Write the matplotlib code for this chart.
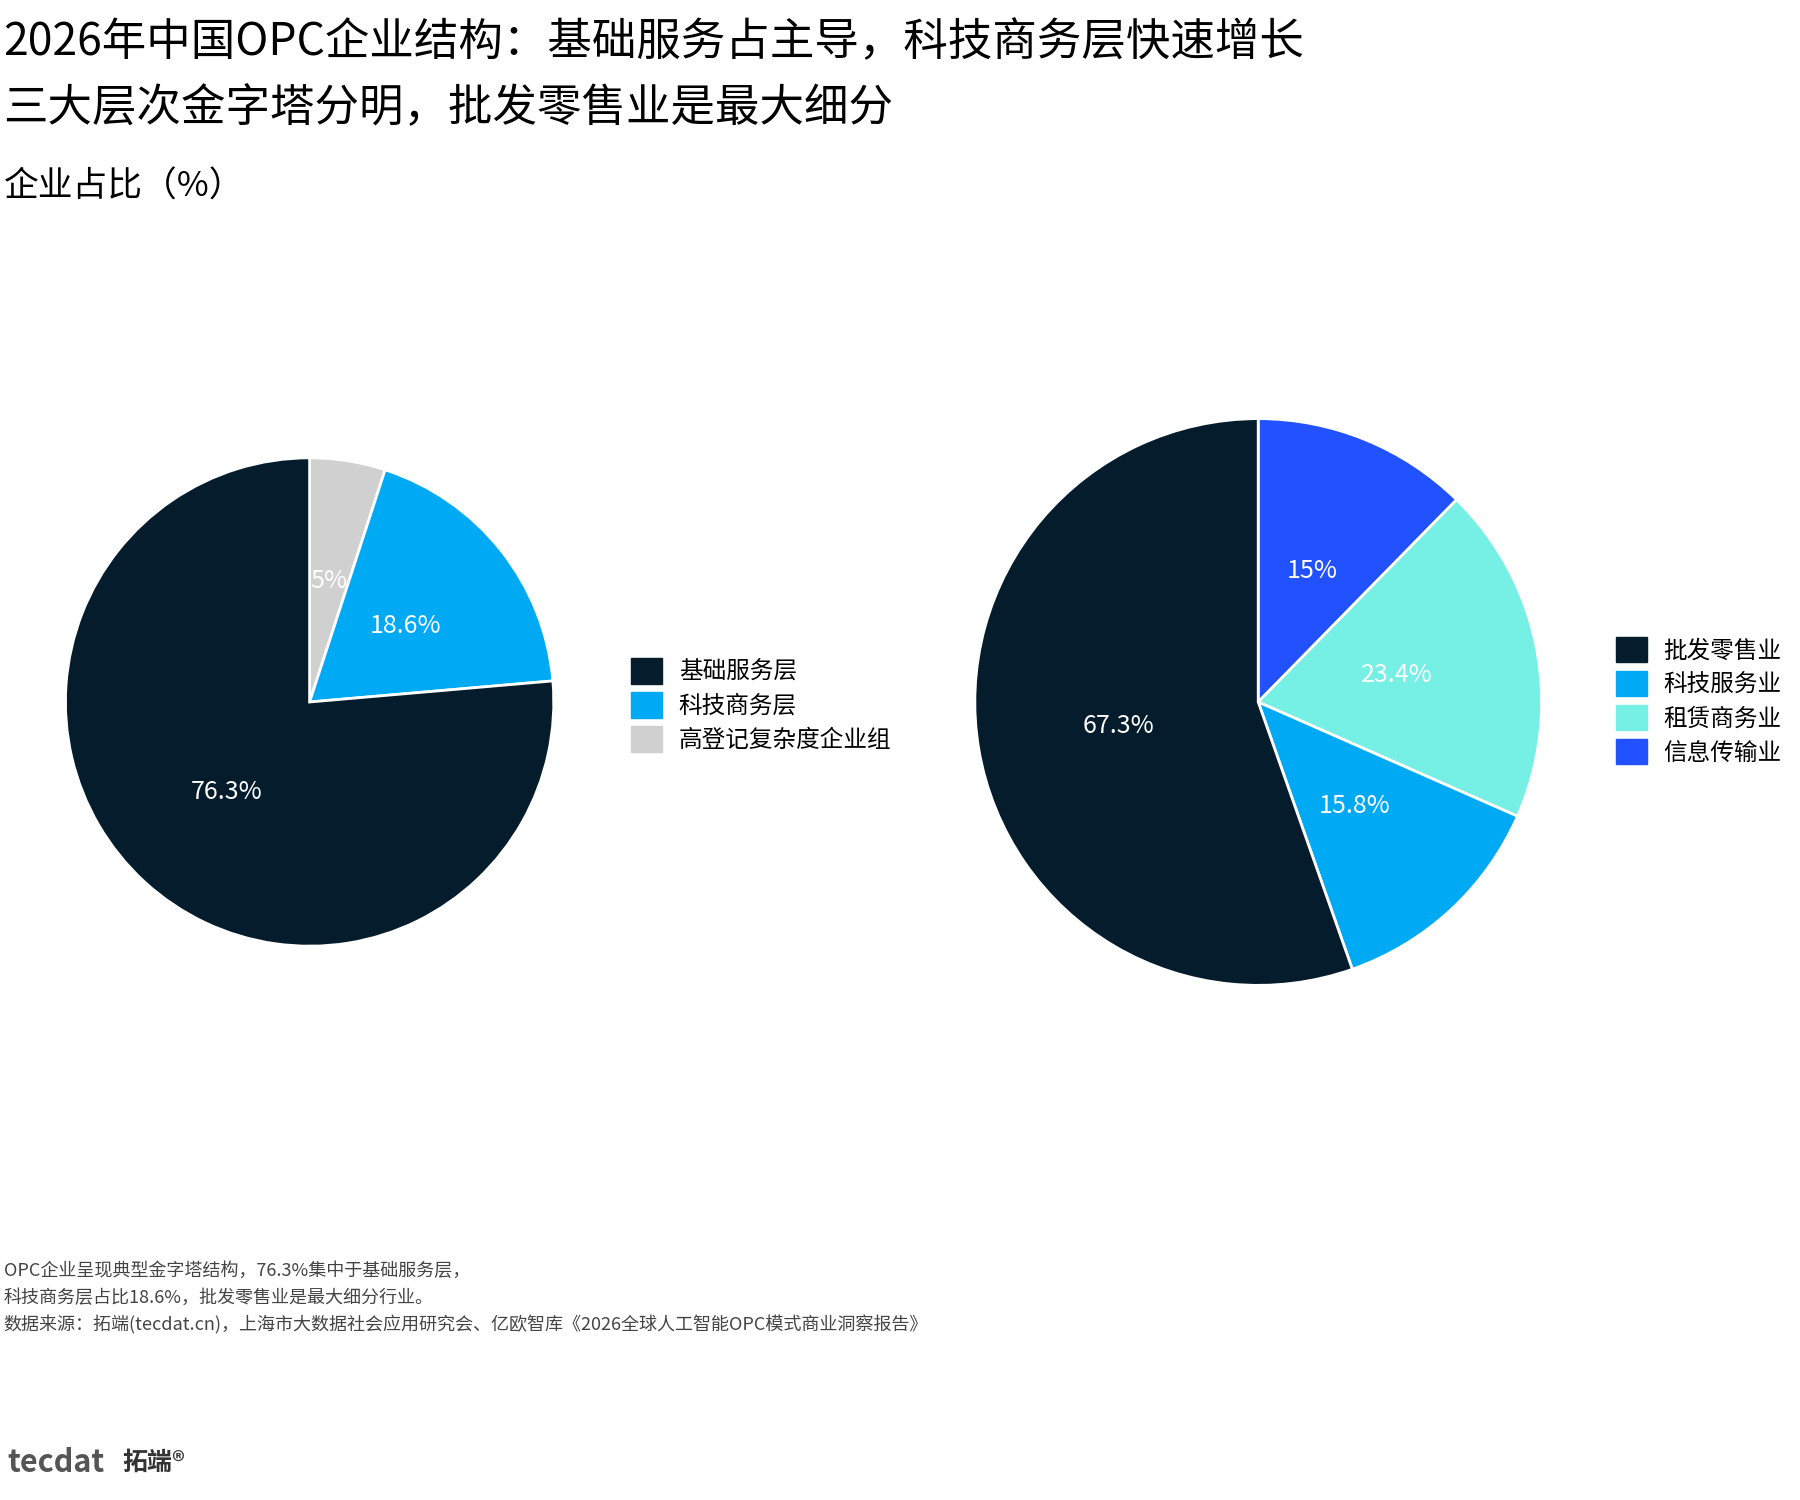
import matplotlib.pyplot as plt
from matplotlib.patches import Patch

plt.rcParams['font.family'] = ['Noto Sans CJK SC', 'DejaVu Sans']

# left pie: layers (drawn clockwise from top)
layer_names = ['高登记复杂度企业组', '科技商务层', '基础服务层']
layer_vals = [5, 18.6, 76.3]
layer_lbls = ['5%', '18.6%', '76.3%']
layer_cols = ['#D0D0D0', '#00A9F4', '#051C2C']
layer_legend = ['基础服务层', '科技商务层', '高登记复杂度企业组']

# right pie: industries
ind_names = ['信息传输业', '租赁商务业', '科技服务业', '批发零售业']
ind_vals = [15, 23.4, 15.8, 67.3]
ind_lbls = ['15%', '23.4%', '15.8%', '67.3%']
ind_cols = ['#2251FF', '#76EFE4', '#00A9F4', '#051C2C']
ind_legend = ['批发零售业', '科技服务业', '租赁商务业', '信息传输业']

fig = plt.figure(figsize=(18, 15), dpi=100)

def draw_pie(rect, vals, lbls, cols, names, legend_order, leg_anchor):
    ax = fig.add_axes(rect)
    it = iter(lbls)
    wedges, texts, autotexts = ax.pie(vals, colors=cols, startangle=90, counterclock=False,
                                      autopct=lambda p: next(it), pctdistance=0.5,
                                      wedgeprops=dict(edgecolor='white', linewidth=2),
                                      textprops=dict(color='white', fontsize=18))
    ax.set_xlim(-1.01, 1.01)
    ax.set_ylim(-1.01, 1.01)
    ax.set_aspect('equal')
    handles = [Patch(color=cols[names.index(n)], label=n) for n in legend_order]
    fig.legend(handles=handles, loc='center left', bbox_to_anchor=leg_anchor, frameon=False,
               fontsize=17, handlelength=1.3, handleheight=1.3, labelspacing=0.35,
               handletextpad=0.7)

draw_pie([0.172 - 0.137, 0.532 - 0.1645, 0.274, 0.329], layer_vals, layer_lbls, layer_cols,
         layer_names, layer_legend, (0.339, 0.53))
draw_pie([0.699 - 0.159, 0.532 - 0.191, 0.318, 0.382], ind_vals, ind_lbls, ind_cols,
         ind_names, ind_legend, (0.886, 0.533))

fig.text(0.002, 0.972, '2026年中国OPC企业结构：基础服务占主导，科技商务层快速增长', fontsize=32, va='center')
fig.text(0.002, 0.928, '三大层次金字塔分明，批发零售业是最大细分', fontsize=32, va='center')
fig.text(0.002, 0.875, '企业占比（%）', fontsize=25, va='center')

notes = ['OPC企业呈现典型金字塔结构，76.3%集中于基础服务层，',
         '科技商务层占比18.6%，批发零售业是最大细分行业。',
         '数据来源：拓端(tecdat.cn)，上海市大数据社会应用研究会、亿欧智库《2026全球人工智能OPC模式商业洞察报告》']
for i, t in enumerate(notes):
    fig.text(0.002, 0.153 - i * 0.018, t, fontsize=13, color='#444444', va='center')

fig.text(0.004, 0.025, 'tecdat', fontsize=22, color='#555555', va='center', fontweight='bold')
fig.text(0.068, 0.025, '拓端®', fontsize=18, color='#333333', va='center', fontweight='bold')

fig.savefig('out.png', dpi=100, facecolor='white')
